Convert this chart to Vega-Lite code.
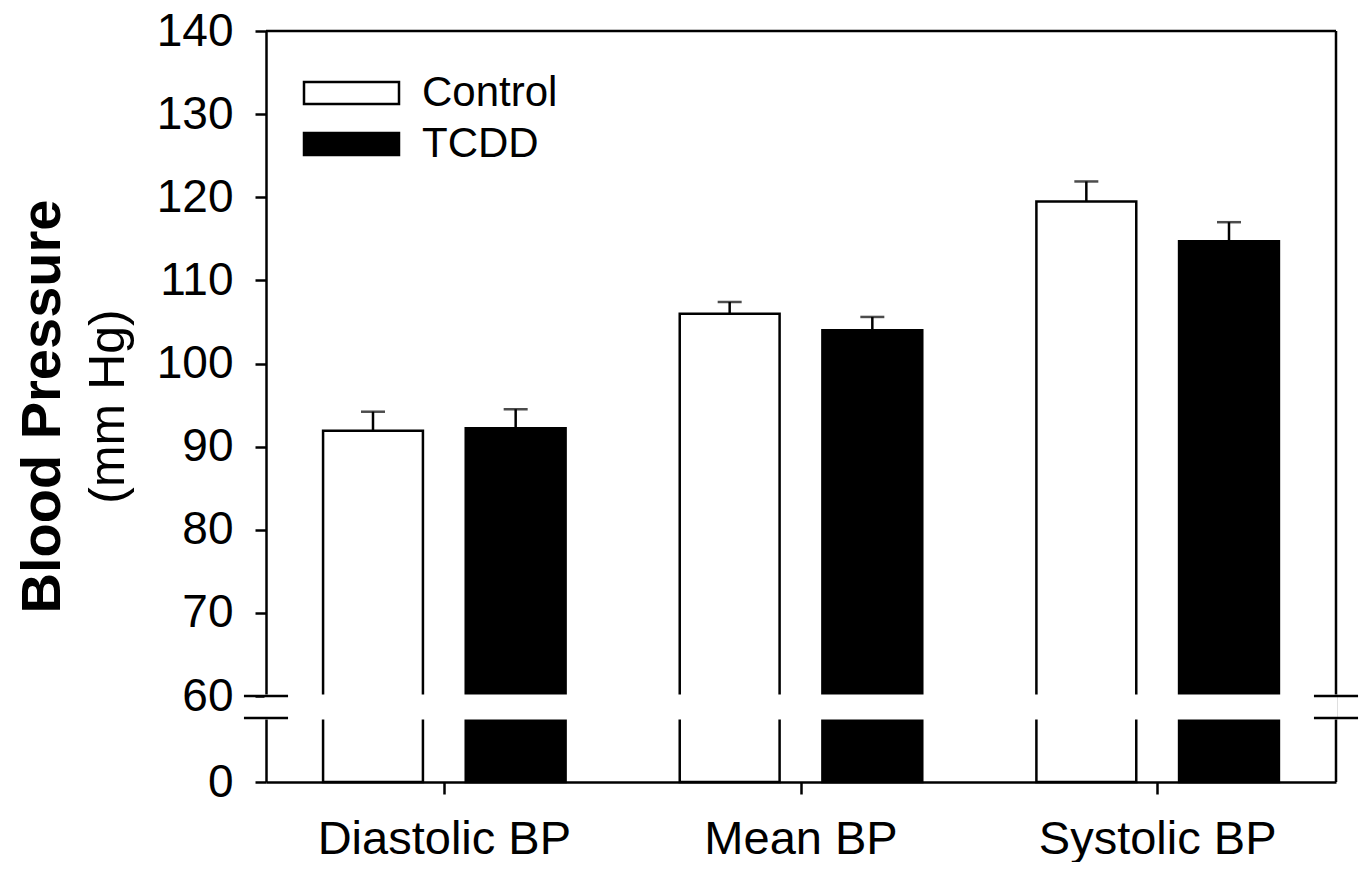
{
  "$schema": "https://vega.github.io/schema/vega-lite/v6.json",
  "background": "white",
  "padding": {"left": 15, "top": 8, "right": 5, "bottom": 0},
  "width": 1070,
  "height": 751,
  "datasets": {
    "bp": [
      {"cat": "Diastolic BP", "grp": "Control", "mean": 91.9, "hi": 94.2},
      {"cat": "Diastolic BP", "grp": "TCDD", "mean": 92.2, "hi": 94.5},
      {"cat": "Mean BP", "grp": "Control", "mean": 106.0, "hi": 107.4},
      {"cat": "Mean BP", "grp": "TCDD", "mean": 104.0, "hi": 105.6},
      {"cat": "Systolic BP", "grp": "Control", "mean": 119.5, "hi": 121.9},
      {"cat": "Systolic BP", "grp": "TCDD", "mean": 114.7, "hi": 117.0}
    ],
    "brk": [
      {"bx": -0.0206, "bx2": 0.0206, "by": 60},
      {"bx": 0.9794, "bx2": 1.0206, "by": 60},
      {"bx": -0.0206, "bx2": 0.0206, "by": 10},
      {"bx": 0.9794, "bx2": 1.0206, "by": 10}
    ],
    "gap": [{"lo": 10, "hi": 60}],
    "one": [{"edge": 1}]
  },
  "title": {
    "text": "Blood Pressure",
    "subtitle": "(mm Hg)",
    "orient": "left",
    "anchor": "middle",
    "frame": "group",
    "font": "Liberation Sans",
    "fontSize": 56,
    "fontWeight": "bold",
    "color": "black",
    "subtitleFont": "Liberation Sans",
    "subtitleFontSize": 50,
    "subtitleFontWeight": "normal",
    "subtitleColor": "black",
    "subtitlePadding": 12,
    "offset": 21
  },
  "resolve": {"scale": {"x": "independent"}},
  "layer": [
    {
      "data": {"name": "bp"},
      "encoding": {
        "x": {"field": "cat", "type": "nominal", "scale": {"paddingInner": 0.32, "paddingOuter": 0.16},
              "axis": {"orient": "bottom", "title": null, "bandPosition": 0.5, "labelAngle": 0, "labelLimit": 0}},
        "xOffset": {"field": "grp", "type": "nominal", "scale": {"paddingInner": 0.3, "paddingOuter": 0}}
      },
      "layer": [
        {
          "mark": {"type": "bar", "stroke": "black", "strokeWidth": 2.5},
          "encoding": {
            "y": {"field": "mean", "type": "quantitative",
                  "scale": {"domain": [0, 10, 60, 140], "range": [751, 687, 665, 0], "nice": false, "zero": false},
                  "axis": {"values": [0, 60, 70, 80, 90, 100, 110, 120, 130, 140], "title": null}},
            "y2": {"datum": 0},
            "fill": {"field": "grp", "type": "nominal", "scale": {"domain": ["Control", "TCDD"], "range": ["white", "black"]},
                     "legend": {"orient": "none", "legendX": 64.5, "legendY": 41, "title": null, "padding": 0,
                                "symbolType": "M-4.318,-1L4.318,-1L4.318,1L-4.318,1Z", "symbolSize": 484,
                                "symbolStrokeColor": "black", "symbolStrokeWidth": 2.5,
                                "labelFont": "Liberation Sans", "labelFontSize": 42, "labelColor": "black",
                                "labelOffset": 49.5, "rowPadding": 9}}
          }
        },
        {
          "mark": {"type": "rule", "strokeWidth": 2.5, "color": "black"},
          "encoding": {"y": {"field": "mean", "type": "quantitative"}, "y2": {"field": "hi"}}
        },
        {
          "mark": {"type": "tick", "thickness": 2.5, "size": 24, "color": "black", "orient": "horizontal"},
          "encoding": {"y": {"field": "hi", "type": "quantitative"}}
        }
      ]
    },
    {
      "data": {"name": "one"},
      "mark": {"type": "rule", "strokeWidth": 2.5, "color": "black"},
      "encoding": {"x": {"field": "edge", "type": "quantitative", "scale": {"domain": [0, 1]}, "axis": null}}
    },
    {
      "data": {"name": "one"},
      "mark": {"type": "rule", "strokeWidth": 2.5, "color": "black"},
      "encoding": {"y": {"datum": 140, "type": "quantitative"}}
    },
    {
      "data": {"name": "gap"},
      "mark": {"type": "rect", "fill": "white", "stroke": "white", "strokeWidth": 3},
      "encoding": {"y": {"field": "lo", "type": "quantitative"}, "y2": {"field": "hi"}}
    },
    {
      "data": {"name": "brk"},
      "mark": {"type": "rule", "strokeWidth": 2.5, "color": "black"},
      "encoding": {
        "x": {"field": "bx", "type": "quantitative", "scale": {"domain": [0, 1]}, "axis": null},
        "x2": {"field": "bx2"},
        "y": {"field": "by", "type": "quantitative"}
      }
    }
  ],
  "config": {
    "view": {"stroke": null},
    "font": "Liberation Sans",
    "axis": {
      "domainColor": "black", "domainWidth": 2.5, "tickColor": "black", "tickWidth": 2.5, "tickSize": 11,
      "labelFont": "Liberation Sans", "labelFontSize": 46, "labelColor": "black", "labelPadding": 22, "grid": false
    },
    "axisX": {"labelPadding": 22, "tickSize": 12, "labelFontSize": 47}
  }
}
